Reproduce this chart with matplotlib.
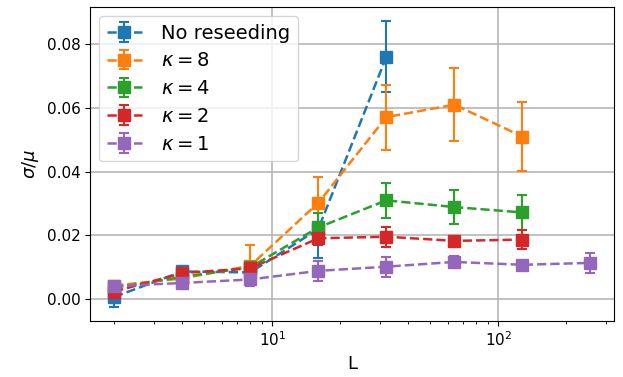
"""
sigma/mu of the estimate against system size L for several reseeding rates
"""

import numpy as np
import matplotlib.pyplot as plt

L = [2, 4, 8, 16, 32, 64, 128, 256]

# (L values, mean, error) per run
no_reseed_L = [2, 4, 8, 16, 32]
no_reseed = [0.0007, 0.0087, 0.0084, 0.0220, 0.0760]
no_reseed_err = [0.0030, 0.0008, 0.0010, 0.0090, 0.0111]

k8_L = [2, 4, 8, 16, 32, 64, 128]
k8 = [0.0043, 0.0065, 0.0105, 0.0302, 0.0571, 0.0610, 0.0510]
k8_err = [0.0010, 0.0010, 0.0064, 0.0080, 0.0102, 0.0115, 0.0108]

k4_L = [2, 4, 8, 16, 32, 64, 128]
k4 = [0.0036, 0.0070, 0.0100, 0.0225, 0.0310, 0.0289, 0.0272]
k4_err = [0.0010, 0.0010, 0.0012, 0.0045, 0.0054, 0.0053, 0.0055]

k2_L = [2, 4, 8, 16, 32, 64, 128]
k2 = [0.0024, 0.0082, 0.0097, 0.0191, 0.0196, 0.0183, 0.0187]
k2_err = [0.0010, 0.0010, 0.0010, 0.0020, 0.0031, 0.0015, 0.0030]

k1_L = [2, 4, 8, 16, 32, 64, 128, 256]
k1 = [0.0041, 0.0051, 0.0062, 0.0089, 0.0102, 0.0117, 0.0108, 0.0114]
k1_err = [0.0012, 0.0020, 0.0020, 0.0031, 0.0031, 0.0020, 0.0010, 0.0032]

labels = ["No reseeding", r"$\kappa = 8$", r"$\kappa = 4$", r"$\kappa = 2$", r"$\kappa = 1$"]

runs = [(no_reseed_L, no_reseed, no_reseed_err),
        (k8_L, k8, k8_err),
        (k4_L, k4, k4_err),
        (k2_L, k2, k2_err),
        (k1_L, k1, k1_err)]

fig, ax = plt.subplots(figsize=(6.23, 3.77), dpi=100)
fig.subplots_adjust(left=0.145, right=0.986, bottom=0.149, top=0.981)

for (xs, ys, es), lab in zip(runs, labels):
    ax.errorbar(xs, ys, yerr=es, fmt='s--', label=lab, markersize=8,
                linewidth=1.8, elinewidth=1.5, capsize=3.5, capthick=1.5)

ax.set_xscale('log')
ax.grid(True, which='major', color='#b0b0b0', linewidth=1.1)
ax.set_xlabel('L', fontsize=13)
ax.set_ylabel(r'$\sigma/\mu$', fontsize=13)
ax.tick_params(labelsize=11)
ax.legend(loc='upper left', fontsize=14, handlelength=1.8, handletextpad=1.0,
          borderaxespad=0.45, labelspacing=0.45)

plt.savefig('out.png', dpi=100)
